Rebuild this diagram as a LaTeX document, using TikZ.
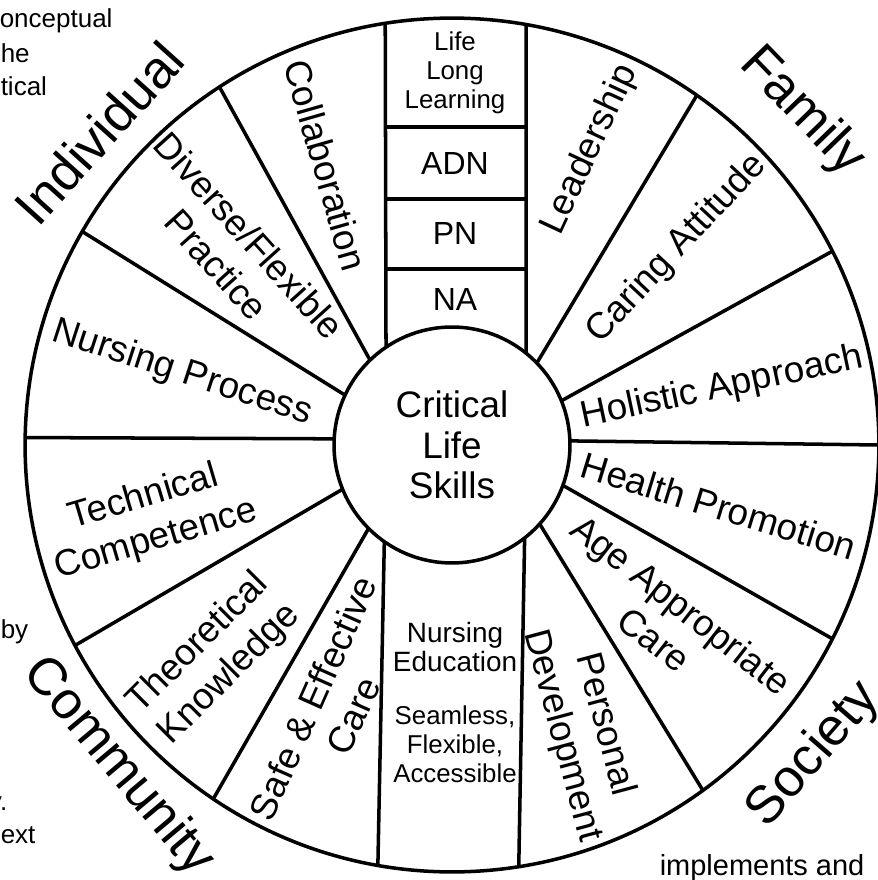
\documentclass[tikz,border=0pt]{standalone}
\usepackage{fontspec}
\setmainfont{Liberation Sans}
\usetikzlibrary{shapes}

\begin{document}
\begin{tikzpicture}[x=0.02cm,y=0.02cm,line width=2pt,
            seg/.style={align=center,font=\fontsize{21}{25}\selectfont},
            realm/.style={font=\fontsize{30}{32}\selectfont},
            rung/.style={font=\fontsize{18.2}{20}\selectfont},
            stripnote/.style={align=center,font=\fontsize{14.7}{16.4}\selectfont},
            pagetext/.style={anchor=base west,inner sep=0pt,font=\fontsize{14.8}{19.3}\selectfont}]
            \useasboundingbox (-452,-435) rectangle (425,445);
            \node[shape=circle,draw=black,minimum size=17.08cm,outer sep=0pt](wheel)at(0,0){};
            \node[shape=circle,draw=black,minimum size=4.72cm,outer sep=0pt,align=center,font=\fontsize{21}{23}\selectfont](hub)at(0,0){Critical\\Life\\Skills};
            % spokes
            \path(hub.2.5) edge (wheel.0.8)
            (hub.22.5) edge (wheel.27.8)
            (hub.44.5) edge (wheel.55.4)
            (hub.-20.5) edge (wheel.-27.3)
            (hub.-42.5) edge (wheel.-54.9)
            (hub.177.5) edge (wheel.179.3)
            (hub.155.4) edge (wheel.150.4)
            (hub.134) edge (wheel.123)
            (hub.202) edge (wheel.208.6)
            (hub.225.5) edge (wheel.236.6);
            % the middle strip
            \path(hub.124.6) edge (wheel.99.03)
            (hub.51.17) edge (wheel.80.02)
            (hub.235.4) edge (wheel.260.97)
            (hub.308.83) edge (wheel.279.98);
            \draw(-67,318) -- (74,318);
            \draw(-67,246) -- (74,246);
            \draw(-67,176) -- (74,176);
            \node[stripnote](lifelong)at(3,372){Life\\Long\\Learning};
            \node[rung](adn)at(3,282){ADN};
            \node[rung](pn)at(3,212){PN};
            \node[rung](na)at(3,146){NA};
            \node[align=center,font=\fontsize{15.9}{17}\selectfont](nursedu)at(3,-202){Nursing\\Education};
            \node[stripnote](seamless)at(3,-299){Seamless,\\Flexible,\\Accessible};
            % segments
            \node[seg,rotate=12](holistic)at(270,57){Holistic Approach};
            \node[seg,rotate=-17](health)at(267,-61){Health Promotion};
            \node[seg,rotate=47](caring)at(225,196){Caring Attitude};
            \node[seg,rotate=65](leadership)at(138,295){Leadership};
            \node[seg,rotate=-74](collab)at(-126,280){Collaboration};
            \node[seg,rotate=-48](diverse)at(-219,195){Diverse/Flexible\\Practice};
            \node[seg,rotate=-18](process)at(-270,72){Nursing Process};
            \node[seg,rotate=16.5](technical)at(-302,-74){Technical\\Competence};
            \node[seg,rotate=45](theory)at(-238,-214){Theoretical\\Knowledge};
            \node[seg,rotate=66](safe)at(-119,-262){Safe \& Effective\\Care};
            \node[seg,rotate=-75](personal)at(131,-285){Personal\\Development};
            \node[seg,rotate=-38](age)at(216,-177){Age Appropriate\\Care};
            % outside the wheel
            \node[realm,rotate=48](individual)at(-353,312){Individual};
            \node[realm,rotate=-46](family)at(350,333){Family};
            \node[realm,rotate=-50](community)at(-334,-322){Community};
            \node[realm,rotate=49](society)at(362,-310){Society};
            % running text of the page
            \node[pagetext](t1)at(-454,418){onceptual};
            \node[pagetext](t2)at(-453,383){he};
            \node[pagetext](t3)at(-453,350){tical};
            \node[pagetext](t4)at(-453,-193){by};
            \node[pagetext,anchor=base east](t5)at(-443,-365){y.};
            \node[pagetext](t6)at(-453,-398){ext};
            \node[pagetext,font=\fontsize{16.5}{19}\selectfont](t7)at(206,-430){implements and};
\end{tikzpicture}
\end{document}
